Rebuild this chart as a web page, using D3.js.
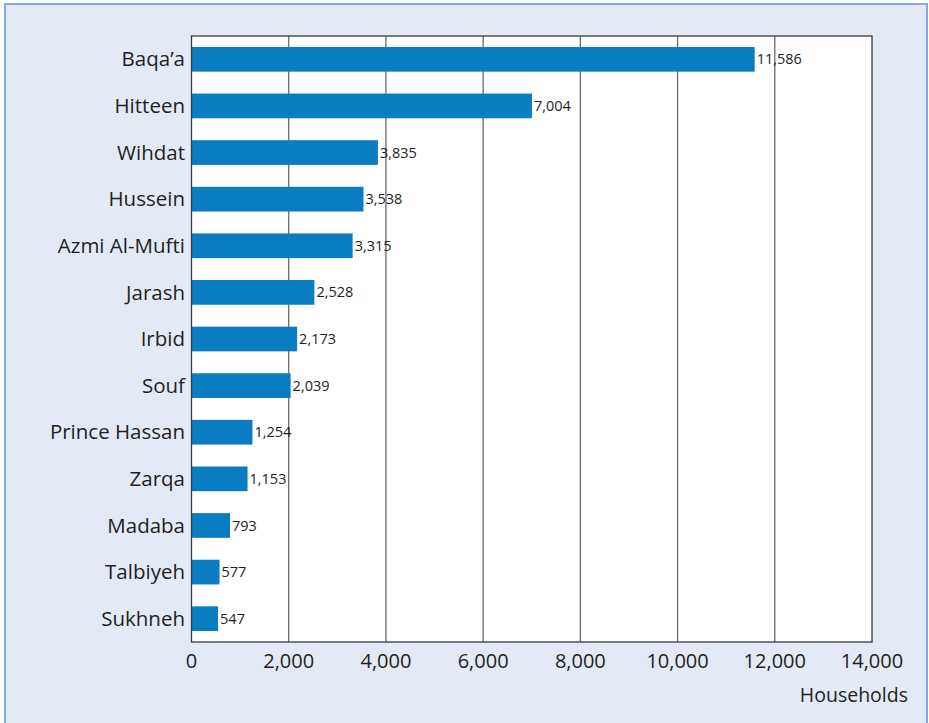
<!DOCTYPE html>
<html><head><meta charset="utf-8">
<script src="https://cdn.jsdelivr.net/npm/d3@7"></script>
<style>body{margin:0;background:#fff;}svg{display:block;}</style>
</head><body>
<script>
const categories = ["Baqa’a","Hitteen","Wihdat","Hussein","Azmi Al-Mufti","Jarash","Irbid","Souf","Prince Hassan","Zarqa","Madaba","Talbiyeh","Sukhneh"];
const households = [11586,7004,3835,3538,3315,2528,2173,2039,1254,1153,793,577,547];
const xTicks = [0,2000,4000,6000,8000,10000,12000,14000];
const axisTitle = "Households";

const W=929,H=723;
const svg=d3.select("body").append("svg").attr("width",W).attr("height",H);
svg.append("rect").attr("x",0).attr("y",0).attr("width",W).attr("height",H).attr("fill","#fff");
svg.append("rect").attr("x",5).attr("y",4).attr("width",922).attr("height",H+10)
  .attr("fill","#e3e9f5").attr("stroke","#86abdd").attr("stroke-width",2);

const m={left:191.5,top:36,right:872,bottom:642};
const x=d3.scaleLinear().domain([0,14000]).range([m.left,m.right]);
const y=d3.scaleBand().domain(categories).range([m.top,m.bottom]).paddingInner(0.47).paddingOuter(0.235);
const font="'Open Sans', 'Noto Sans', sans-serif";

svg.append("rect").attr("x",m.left).attr("y",m.top).attr("width",m.right-m.left).attr("height",m.bottom-m.top).attr("fill","#fff");
svg.append("g").selectAll("line").data(xTicks.slice(1,-1)).join("line")
  .attr("x1",d=>x(d)).attr("x2",d=>x(d)).attr("y1",m.top).attr("y2",m.bottom)
  .attr("stroke","#6a6a6a").attr("stroke-width",1.3);

svg.append("g").selectAll("rect").data(categories).join("rect")
  .attr("x",x(0)).attr("y",d=>y(d)).attr("height",y.bandwidth())
  .attr("width",(d,i)=>x(households[i])-x(0)).attr("fill","#0a7dc2");

svg.append("rect").attr("x",m.left).attr("y",m.top).attr("width",m.right-m.left).attr("height",m.bottom-m.top)
  .attr("fill","none").attr("stroke","#3a3a3a").attr("stroke-width",1.3);

svg.append("g").selectAll("text").data(categories).join("text")
  .attr("x",185).attr("y",d=>y(d)+y.bandwidth()/2).attr("dy","0.35em")
  .attr("text-anchor","end").attr("font-family",font).attr("font-size",20.5).attr("fill","#231f20").text(d=>d);

svg.append("g").selectAll("text").data(categories).join("text")
  .attr("x",(d,i)=>x(households[i])+2).attr("y",d=>y(d)+y.bandwidth()/2).attr("dy","0.35em")
  .attr("font-family",font).attr("font-size",14.5).attr("fill","#231f20").text((d,i)=>d3.format(",")(households[i]));

svg.append("g").selectAll("text").data(xTicks).join("text")
  .attr("x",d=>x(d)).attr("y",668).attr("text-anchor","middle")
  .attr("font-family",font).attr("font-size",20).attr("fill","#231f20").text(d=>d3.format(",")(d));

svg.append("text").attr("x",908).attr("y",702).attr("text-anchor","end")
  .attr("font-family",font).attr("font-size",19.5).attr("fill","#231f20").text(axisTitle);
</script>
</body></html>
